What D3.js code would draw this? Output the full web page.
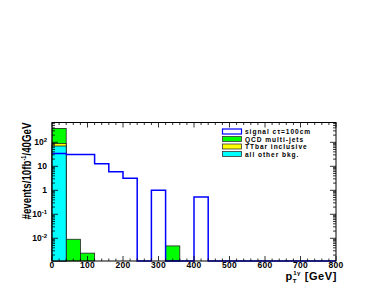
<!DOCTYPE html>
<html>
<head>
<script src="https://cdnjs.cloudflare.com/ajax/libs/d3/7.8.5/d3.min.js"></script>
<title>pT photon</title>
<style>
body { margin: 0; background: #fff; }
text { font-family: "Liberation Sans", Helvetica, Arial, sans-serif; font-weight: bold; }
</style>
</head>
<body>
<script>
// 40 GeV bins from 0 to 800
var binEdges = d3.range(0, 801, 40);
var signal = [34, 31, 31, 12.8, 6, 3.2, 0, 1.0, 0, 0, 0.52, 0, 0, 0, 0, 0, 0, 0, 0, 0];
var qcd    = [290, 0.0091, 0.0024, 0, 0, 0, 0, 0, 0.0048, 0, 0, 0, 0, 0, 0, 0, 0, 0, 0, 0];
var ttbar  = [20, 0, 0, 0, 0, 0, 0, 0, 0, 0, 0, 0, 0, 0, 0, 0, 0, 0, 0, 0];
var other  = [70, 0, 0, 0, 0, 0, 0, 0, 0, 0, 0, 0, 0, 0, 0, 0, 0, 0, 0, 0];
var xTicks = [0, 100, 200, 300, 400, 500, 600, 700, 800];
var yTicks = [0.01, 0.1, 1, 10, 100];
var yTickLabels = [["10", "-2"], ["10", "-1"], ["1", ""], ["10", ""], ["10", "2"]];
var legendNames = ["signal c\u03c4=100cm", "QCD multi-jets", "TTbar inclusive", "all other bkg."];
var legendFill = ["#ffffff", "#00ff00", "#ffff00", "#00ffff"];
var legendStroke = ["#0000ff", "#333", "#333", "#333"];

var W = 382, H = 294;
var pLeft = 52, pRight = 336, pTop = 122.5, pBottom = 261;

var svg = d3.select("body").append("svg")
    .attr("width", W)
    .attr("height", H);

var x = d3.scaleLinear().domain([0, 800]).range([pLeft, pRight]);
var y = d3.scaleLog().domain([0.00113, 670]).range([pBottom, pTop]);
var ymin = y.domain()[0];

// stacked totals, drawn from the top one down like THStack
var stackOther = other.slice();
var stackTT = other.map(function(d, i) { return d + ttbar[i]; });
var stackAll = stackTT.map(function(d, i) { return d + qcd[i]; });
var layers = [[stackAll, "#00ff00"], [stackTT, "#ffff00"], [stackOther, "#00ffff"]];

layers.forEach(function(l) {
  svg.append("g").selectAll("rect")
    .data(l[0].map(function(v, i) { return {v: v, i: i}; }).filter(function(d) { return d.v > ymin; }))
    .enter().append("rect")
      .attr("x", function(d) { return x(binEdges[d.i]); })
      .attr("width", function(d) { return x(binEdges[d.i + 1]) - x(binEdges[d.i]); })
      .attr("y", function(d) { return y(d.v); })
      .attr("height", function(d) { return pBottom - y(d.v); })
      .attr("fill", l[1])
      .attr("stroke", "#222")
      .attr("stroke-width", 0.8);
});

// signal outline histogram
var pts = [];
signal.forEach(function(v, i) {
  var yy = y(Math.max(v, ymin));
  pts.push([x(binEdges[i]), yy]);
  pts.push([x(binEdges[i + 1]), yy]);
});
svg.append("path")
    .attr("d", d3.line()(pts))
    .attr("fill", "none")
    .attr("stroke", "#0000ff")
    .attr("stroke-width", 1.5);

// frame
svg.append("rect")
    .attr("x", pLeft).attr("y", pTop)
    .attr("width", pRight - pLeft).attr("height", pBottom - pTop)
    .attr("fill", "none").attr("stroke", "#000").attr("stroke-width", 1);

// x ticks on bottom and top
var xMinor = d3.range(0, 801, 20);
var tg = svg.append("g").attr("stroke", "#000").attr("stroke-width", 0.8);
xMinor.forEach(function(v) {
  var len = v % 100 === 0 ? 5 : 2.5;
  tg.append("line").attr("x1", x(v)).attr("x2", x(v)).attr("y1", pBottom).attr("y2", pBottom - len);
  tg.append("line").attr("x1", x(v)).attr("x2", x(v)).attr("y1", pTop).attr("y2", pTop + len);
});

// y ticks on left and right (log minors)
var yMinor = [];
[-3, -2, -1, 0, 1, 2].forEach(function(e) {
  for (var k = 1; k <= 9; k++) {
    var v = k * Math.pow(10, e);
    if (v >= ymin && v <= y.domain()[1]) yMinor.push({v: v, major: k === 1});
  }
});
yMinor.forEach(function(d) {
  var len = d.major ? 6 : 3;
  tg.append("line").attr("x1", pLeft).attr("x2", pLeft + len).attr("y1", y(d.v)).attr("y2", y(d.v));
  tg.append("line").attr("x1", pRight).attr("x2", pRight - len).attr("y1", y(d.v)).attr("y2", y(d.v));
});

// x tick labels
svg.append("g").selectAll("text")
  .data(xTicks).enter().append("text")
    .attr("x", function(d) { return x(d); })
    .attr("y", 268)
    .attr("text-anchor", "middle")
    .attr("font-size", 8.5)
    .attr("letter-spacing", 0.3)
    .text(function(d) { return d; });

// y tick labels
var yl = svg.append("g").selectAll("text")
  .data(yTicks).enter().append("text")
    .attr("x", 47)
    .attr("y", function(d) { return y(d) + 3; })
    .attr("text-anchor", "end")
    .attr("font-size", 8.5);
yl.append("tspan").text(function(d, i) { return yTickLabels[i][0]; });
yl.append("tspan")
    .attr("dy", -3.5)
    .attr("font-size", 6)
    .text(function(d, i) { return yTickLabels[i][1]; });

// x title
var xt = svg.append("text")
    .attr("x", pRight + 1)
    .attr("y", 280)
    .attr("text-anchor", "end")
    .attr("font-size", 11)
    .attr("letter-spacing", 0.6);
xt.append("tspan").text("p");
xt.append("tspan").attr("font-size", 6).attr("dy", 2.5).text("T");
xt.append("tspan").attr("font-size", 6).attr("dx", -4).attr("dy", -7.5).text("1\u03b3");
xt.append("tspan").attr("dy", 5).text(" [GeV]");

// y title
var yt = svg.append("text")
    .attr("transform", "translate(31," + pTop + ") rotate(-90)")
    .attr("text-anchor", "end")
    .attr("font-size", 12)
    .attr("textLength", 97)
    .attr("lengthAdjust", "spacingAndGlyphs");
yt.append("tspan").text("#events/10fb");
yt.append("tspan").attr("font-size", 7).attr("dy", -5).text("-1");
yt.append("tspan").attr("dy", 5).text("/40GeV");

// legend
var lg = svg.append("g").attr("transform", "translate(222,129)");
legendNames.forEach(function(n, i) {
  lg.append("rect")
    .attr("x", 0.5).attr("y", i * 7.5)
    .attr("width", 19).attr("height", 5)
    .attr("fill", legendFill[i])
    .attr("stroke", legendStroke[i])
    .attr("stroke-width", i === 0 ? 1.2 : 0.8);
  lg.append("text")
    .attr("x", 23).attr("y", i * 7.5 + 5.2)
    .attr("font-size", 6.6)
    .attr("letter-spacing", 0.95)
    .attr("font-weight", "normal")
    .text(n);
});
</script>
</body>
</html>
